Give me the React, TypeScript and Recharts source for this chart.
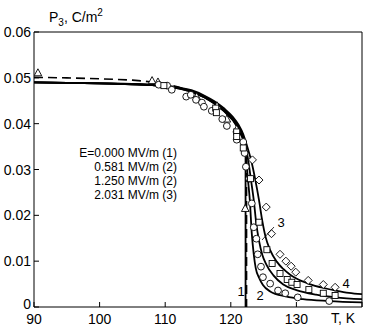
import { ComposedChart, Line, Scatter, XAxis, YAxis } from 'recharts';

const FONT = '"Liberation Sans", Arial, Helvetica, sans-serif';

// x: temperature T, K; y: polarization P3, C/m^2
const xTicks = [90, 100, 110, 120, 130, 140];
const yTicks = [0, 0.01, 0.02, 0.03, 0.04, 0.05, 0.06];

// theory curves
const curve1T = [90, 95, 100, 105, 108, 110, 112, 114, 116, 117.5, 119, 120.3, 121.2, 121.9, 122.25, 122.25];
const curve1P = [0.049, 0.0489, 0.0488, 0.0486, 0.0484, 0.0481, 0.0477, 0.047, 0.0457, 0.0444, 0.0427, 0.0408, 0.0388, 0.0365, 0.0345, 0];

const dashedT = [90, 95, 100, 105, 108, 110, 112, 114, 116, 117.5, 119, 120.3, 121.2, 121.9, 122.4, 122.4];
const dashedP = [0.0501, 0.05, 0.0498, 0.0495, 0.0491, 0.0487, 0.048, 0.0471, 0.0458, 0.0445, 0.0428, 0.0409, 0.0389, 0.0366, 0.034, 0];

const curve2T = [90, 95, 100, 105, 108, 110, 112, 114, 116, 117.5, 119, 120.3, 121.2, 121.9, 122.3, 122.6, 122.9, 123.2, 123.5, 123.8, 124.3, 124.9, 126, 128.4, 131, 135, 140];
const curve2P = [0.049, 0.0489, 0.0488, 0.0486, 0.0484, 0.0481, 0.0477, 0.047, 0.0457, 0.0444, 0.0428, 0.0409, 0.039, 0.0368, 0.033, 0.028, 0.0233, 0.016, 0.0115, 0.0085, 0.0064, 0.0048, 0.0034, 0.0023, 0.0017, 0.0013, 0.001];

const curve3T = [90, 95, 100, 105, 108, 110, 112, 114, 116, 117.5, 119, 120.3, 121.2, 121.9, 122.6, 123.1, 123.5, 123.9, 124.3, 124.8, 125.4, 126.5, 128, 130, 133, 136, 140];
const curve3P = [0.049, 0.0489, 0.0488, 0.0486, 0.0484, 0.0482, 0.0478, 0.0471, 0.0459, 0.0446, 0.043, 0.0412, 0.0393, 0.0372, 0.0325, 0.0275, 0.0233, 0.018, 0.0145, 0.0114, 0.0093, 0.0069, 0.0049, 0.0037, 0.0027, 0.0021, 0.0017];

const curve4T = [90, 95, 100, 105, 108, 110, 112, 114, 116, 117.5, 119, 120.3, 121.2, 121.9, 122.5, 123.1, 123.7, 124.3, 124.8, 125.3, 126, 127, 128, 129, 130, 132, 134, 136, 138, 140];
const curve4P = [0.049, 0.0489, 0.0488, 0.0487, 0.0485, 0.0483, 0.0479, 0.0473, 0.0461, 0.0449, 0.0433, 0.0415, 0.0397, 0.0377, 0.035, 0.032, 0.028, 0.0233, 0.0188, 0.0153, 0.0124, 0.0099, 0.0083, 0.0071, 0.0062, 0.005, 0.0042, 0.0036, 0.0031, 0.0028];

// experimental points
const triT = [90.6, 108.0, 108.9, 114.8, 117.9, 119.4, 120.9, 122.2];
const triP = [0.0511, 0.0494, 0.0491, 0.0459, 0.0439, 0.041, 0.0388, 0.0215];

const circT = [109.0, 110.3, 111.0, 113.2, 113.9, 114.7, 115.6, 115.9, 117.1, 118.7, 119.4, 120.9, 121.9, 122.1, 122.3, 122.8, 123.2, 123.5, 123.9, 124.1, 124.6, 124.9, 126.0, 127.2, 128.3, 130.2, 135.0];
const circP = [0.0485, 0.0483, 0.0474, 0.0459, 0.0463, 0.0452, 0.0446, 0.0437, 0.0428, 0.041, 0.0395, 0.0365, 0.036, 0.0336, 0.0306, 0.028, 0.0226, 0.0174, 0.0149, 0.0115, 0.0088, 0.0065, 0.0051, 0.0036, 0.003, 0.0021, 0.0013];

const sqT = [109.8, 117.7, 117.8, 120.9, 120.9, 121.9, 123.0, 124.3, 125.5, 126.3, 127.5, 128.6, 129.3, 130.1, 131.9, 134.1, 135.9];
const sqP = [0.0483, 0.0434, 0.0424, 0.0382, 0.0372, 0.0347, 0.028, 0.0185, 0.0125, 0.0095, 0.0073, 0.006, 0.0054, 0.0049, 0.0038, 0.003, 0.0025];

const diaT = [123.3, 124.3, 125.4, 126.2, 127.5, 128.4, 129.2, 129.9, 131.8, 134.1, 135.9];
const diaP = [0.0321, 0.0277, 0.0218, 0.016, 0.0115, 0.01, 0.0089, 0.0076, 0.0058, 0.0049, 0.0043];

const legendLines = ['E=0.000 MV/m (1)', '0.581 MV/m (2)', '1.250 MV/m (2)', '2.031 MV/m (3)'];

const toRows = (t: number[], p: number[]) => t.map((T, i) => ({ T, P: p[i] }));

const CircleMark = (p: any) => <circle cx={p.cx} cy={p.cy} r={3.4} fill="#fff" stroke="#000" strokeWidth={0.9} />;
const SquareMark = (p: any) => <rect x={p.cx - 3} y={p.cy - 3} width={6} height={6} fill="#fff" stroke="#000" strokeWidth={0.9} />;
const DiamondMark = (p: any) => (
  <path d={`M${p.cx},${p.cy - 4}L${p.cx + 4},${p.cy}L${p.cx},${p.cy + 4}L${p.cx - 4},${p.cy}Z`} fill="#fff" stroke="#000" strokeWidth={0.9} />
);
const TriMark = (p: any) => (
  <path d={`M${p.cx},${p.cy - 4}L${p.cx + 3.8},${p.cy + 3}L${p.cx - 3.8},${p.cy + 3}Z`} fill="#fff" stroke="#000" strokeWidth={0.9} />
);

const XTickBottom = ({ x, y, payload }: any) => (
  <g>
    <line x1={x} x2={x} y1={y} y2={y - 5} stroke="#000" />
    {payload.value !== 140 && (
      <text x={x} y={y + 17} textAnchor="middle" fontSize={14} fontFamily={FONT} fill="#000">
        {payload.value}
      </text>
    )}
  </g>
);
const XTickTop = ({ x, y }: any) => <line x1={x} x2={x} y1={y} y2={y + 5} stroke="#000" />;
const YTickLeft = ({ x, y, payload }: any) => (
  <g>
    <line x1={x} x2={x + 5} y1={y} y2={y} stroke="#000" />
    <text x={x - 3} y={payload.value === 0 ? y + 2 : y + 5} textAnchor="end" fontSize={14} fontFamily={FONT} fill="#000">
      {payload.value === 0 ? '0' : payload.value.toFixed(2)}
    </text>
  </g>
);
const YTickRight = ({ x, y }: any) => <line x1={x} x2={x - 5} y1={y} y2={y} stroke="#000" />;

export default function App() {
  const lineProps = { dataKey: 'P', stroke: '#000', dot: false, activeDot: false, isAnimationActive: false } as const;
  return (
    <div style={{ position: 'absolute', left: 0, top: 0, width: 368, height: 329, background: '#fff' }}>
      <ComposedChart width={368} height={329} margin={{ top: 31, right: 5, bottom: 21, left: 33 }}>
        <XAxis xAxisId="b" dataKey="T" type="number" domain={[90, 140]} ticks={xTicks} interval={0} height={1}
          tickSize={0} tickMargin={0} tick={<XTickBottom />} axisLine={{ stroke: '#000' }} allowDataOverflow />
        <XAxis xAxisId="t" orientation="top" dataKey="T" type="number" domain={[90, 140]} ticks={xTicks} interval={0} height={1}
          tickSize={0} tickMargin={0} tick={<XTickTop />} axisLine={{ stroke: '#000' }} />
        <YAxis yAxisId="l" dataKey="P" type="number" domain={[0, 0.06]} ticks={yTicks} interval={0} width={1}
          tickSize={0} tickMargin={0} tick={<YTickLeft />} axisLine={{ stroke: '#000' }} allowDataOverflow />
        <YAxis yAxisId="r" orientation="right" dataKey="P" type="number" domain={[0, 0.06]} ticks={yTicks} interval={0} width={1}
          tickSize={0} tickMargin={0} tick={<YTickRight />} axisLine={{ stroke: '#000' }} />

        <Line {...lineProps} xAxisId="b" yAxisId="l" data={toRows(dashedT, dashedP)} type="linear" strokeWidth={1.6} strokeDasharray="9 5" />
        <Line {...lineProps} xAxisId="b" yAxisId="l" data={toRows(curve1T, curve1P)} type="linear" strokeWidth={1.8} />
        <Line {...lineProps} xAxisId="b" yAxisId="l" data={toRows(curve2T, curve2P)} type="monotone" strokeWidth={1.8} />
        <Line {...lineProps} xAxisId="b" yAxisId="l" data={toRows(curve3T, curve3P)} type="monotone" strokeWidth={1.8} />
        <Line {...lineProps} xAxisId="b" yAxisId="l" data={toRows(curve4T, curve4P)} type="monotone" strokeWidth={1.8} />

        <Scatter xAxisId="b" yAxisId="l" data={toRows(triT, triP)} shape={<TriMark />} isAnimationActive={false} />
        <Scatter xAxisId="b" yAxisId="l" data={toRows(circT, circP)} shape={<CircleMark />} isAnimationActive={false} />
        <Scatter xAxisId="b" yAxisId="l" data={toRows(sqT, sqP)} shape={<SquareMark />} isAnimationActive={false} />
        <Scatter xAxisId="b" yAxisId="l" data={toRows(diaT, diaP)} shape={<DiamondMark />} isAnimationActive={false} />
      </ComposedChart>

      <svg width={368} height={329} style={{ position: 'absolute', left: 0, top: 0, pointerEvents: 'none' }}
        fontFamily={FONT} fill="#000">
        <text x={49} y={22} fontSize={14}>
          P<tspan fontSize={10} dy={4}>3</tspan>
          <tspan dy={-4}>, C/m</tspan>
          <tspan fontSize={10} dy={-6}>2</tspan>
        </text>
        {legendLines.map((s, i) => (
          <text key={s} x={177} y={157 + i * 14} fontSize={12} textAnchor="end">{s}</text>
        ))}
        <text x={331} y={323} fontSize={14}>T, K</text>
        <text x={241} y={296} fontSize={13} textAnchor="middle">1</text>
        <text x={260} y={300} fontSize={13} textAnchor="middle">2</text>
        <text x={281} y={227} fontSize={13} textAnchor="middle">3</text>
        <text x={346} y={288} fontSize={13} textAnchor="middle">4</text>
        <line x1={274} y1={227} x2={262} y2={240} stroke="#000" strokeWidth={0.8} />
      </svg>
    </div>
  );
}
